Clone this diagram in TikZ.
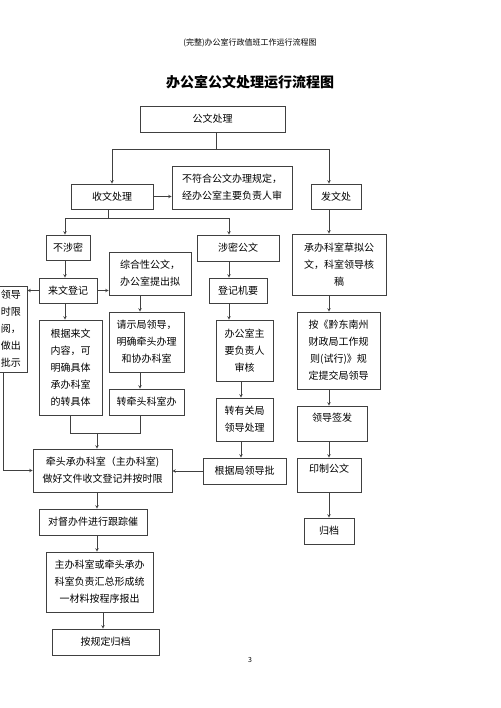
\documentclass[tikz,border=0pt]{standalone}
\usepackage{fontspec}
\setmainfont{Noto Sans CJK SC}
\usepackage{tikz}
\usetikzlibrary{arrows}
\tikzstyle{box} = [rectangle, draw=black!75, line width=0.6pt, align=center, inner sep=2pt, font=\fontsize{10}{17}\selectfont]
\tikzstyle{arrow} = [draw=black!75, line width=0.6pt, ->, >=stealth]

\begin{document}
\begin{tikzpicture}[x=1pt, y=-1pt]
		\useasboundingbox (0,0) rectangle (500,708);
		\coordinate (gwcl) at (212.5,119);
		\coordinate (swcl) at (112,196.5);
		\coordinate (bfh) at (232,187.5);
		\coordinate (fwc) at (336,196.5);
		\coordinate (bsm) at (68,247.5);
		\coordinate (smgw) at (238,248);
		\coordinate (cbks) at (339,264.5);
		\coordinate (lwdj) at (68,290.5);
		\coordinate (ldps) at (-6.5,329);
		\coordinate (zhx) at (150,273.5);
		\coordinate (gjlw) at (70.5,367.5);
		\coordinate (qsld) at (146.5,342);
		\coordinate (zqt) at (146.5,402);
		\coordinate (qtcb) at (102.5,470.5);
		\coordinate (djjy) at (238,290.5);
		\coordinate (bgsz) at (244.5,350.5);
		\coordinate (zygj) at (244.5,419.5);
		\coordinate (gjjl) at (244.5,471);
		\coordinate (ahdn) at (338.5,350.5);
		\coordinate (ldqf) at (332,423.5);
		\coordinate (yzgw) at (329,475);
		\coordinate (gd) at (329,531);
		\coordinate (dbj) at (93,522);
		\coordinate (zbks) at (99.5,582);
		\coordinate (agd) at (105.5,642);
		% branch points and columns
		\coordinate (s1) at (216,149);
		\coordinate (s2) at (108,218);
		\coordinate (s3) at (97,433);
		\coordinate (cola) at (65,0);
		\coordinate (colb) at (97,0);
		\coordinate (colc) at (140,0);
		\coordinate (cold) at (229,0);
		\coordinate (cole) at (241,0);
		\coordinate (colf) at (329,0);
		\coordinate (colg) at (3,0);
		\coordinate (colh) at (103,0);
		% Titles
		\node[name=header, font=\fontsize{8}{8}\selectfont] at (250,43) {(完整)办公室行政值班工作运行流程图};
		\node[name=title, font=\fontsize{14}{14}\selectfont\bfseries] at (250,82) {办公室公文处理运行流程图};
		\node[name=pageno, font=\fontsize{7}{7}\selectfont] at (250,660) {3};
		% Top
		\begin{scope}[every node/.style={box}]
		\node[name=gwcl, minimum width=145pt, minimum height=26pt] at (gwcl) {公文处理};
		\node[name=swcl, minimum width=82pt, minimum height=25pt] at (swcl) {收文处理};
		\node[name=bfh, minimum width=120pt, minimum height=43pt] at (bfh) {不符合公文办理规定，\\经办公室主要负责人审};
		\node[name=fwc, minimum width=50pt, minimum height=25pt] at (fwc) {发文处};
		\end{scope}
		% Receiving
		\begin{scope}[every node/.style={box}]
		\node[name=bsm, minimum width=44pt, minimum height=25pt] at (bsm) {不涉密};
		\node[name=lwdj, minimum width=58pt, minimum height=25pt] at (lwdj) {来文登记};
		\node[name=ldps, minimum height=86pt, text width=55pt, inner xsep=6pt, align=right] at (ldps) {领导\\时限\\阅，\\做出\\批示\hspace*{5pt}};
		\node[name=zhx, minimum width=82pt, minimum height=43pt] at (zhx) {综合性公文，\\办公室提出拟};
		\node[name=gjlw, minimum width=63pt, minimum height=95pt] at (gjlw) {根据来文\\内容，可\\明确具体\\承办科室\\的转具体};
		\node[name=qsld, minimum width=75pt, minimum height=60pt] at (qsld) {请示局领导，\\明确牵头办理\\和协办科室};
		\node[name=zqt, minimum width=75pt, minimum height=26pt] at (zqt) {转牵头科室办};
		\node[name=qtcb, minimum width=139pt, minimum height=43pt] at (qtcb) {牵头承办科室（主办科室)\\做好文件收文登记并按时限};
		\node[name=dbj, minimum width=108pt, minimum height=26pt] at (dbj) {对督办件进行跟踪催};
		\node[name=zbks, minimum width=107pt, minimum height=60pt] at (zbks) {主办科室或牵头承办\\科室负责汇总形成统\\一材料按程序报出};
		\node[name=agd, minimum width=107pt, minimum height=26pt] at (agd) {按规定归档};
		\end{scope}
		% Classified
		\begin{scope}[every node/.style={box}]
		\node[name=smgw, minimum width=82pt, minimum height=26pt] at (smgw) {涉密公文};
		\node[name=djjy, minimum width=58pt, minimum height=25pt] at (djjy) {登记机要};
		\node[name=bgsz, minimum width=57pt, minimum height=61pt] at (bgsz) {办公室主\\要负责人\\审核};
		\node[name=zygj, minimum width=57pt, minimum height=43pt] at (zygj) {转有关局\\领导处理};
		\node[name=gjjl, minimum width=83pt, minimum height=26pt] at (gjjl) {根据局领导批};
		\end{scope}
		% Sending
		\begin{scope}[every node/.style={box}]
		\node[name=cbks, minimum width=94pt, minimum height=61pt] at (cbks) {承办科室草拟公\\文，科室领导核\\稿};
		\node[name=ahdn, minimum width=83pt, minimum height=77pt] at (ahdn) {按《黔东南州\\财政局工作规\\则(试行)》规\\定提交局领导};
		\node[name=ldqf, minimum width=70pt, minimum height=35pt, text depth=12pt] at (ldqf) {领导签发};
		\node[name=yzgw, minimum width=64pt, minimum height=34pt, text depth=13pt] at (yzgw) {印制公文};
		\node[name=gd, minimum width=50pt, minimum height=26pt] at (gd) {归档};
		\end{scope}
		% Connectors
		\draw[arrow, -] (gwcl.south -| s1) -- (s1);
		\draw [arrow] (s1) -| (swcl);
		\draw [arrow] (s1) -| (fwc.north -| colf);
		\draw [arrow] (swcl.east) -- (swcl.east -| bfh.west);
		\draw [arrow, -] (swcl.south -| s2) -- (s2);
		\draw [arrow] (s2) -| (bsm.north -| cola);
		\draw [arrow] (s2) -| (smgw.north -| cold);
		\draw [arrow] (bsm.south -| cola) -- (lwdj.north -| cola);
		\draw [arrow] (lwdj.west) -- (lwdj.west -| ldps.east);
		\draw [arrow] (lwdj.east) -- (lwdj.east -| zhx.west);
		\draw [arrow] (lwdj.south -| cola) -- (gjlw.north -| cola);
		\draw [arrow] (zhx.south -| colc) -- (qsld.north -| colc);
		\draw [arrow] (qsld.south -| colc) -- (zqt.north -| colc);
		\draw [arrow, -] (gjlw.south) |- (s3 -| colc) -- (zqt.south -| colc);
		\draw [arrow] (s3) -- (qtcb.north -| s3);
		\draw [arrow] (ldps.south -| colg) |- (qtcb.west);
		\draw [arrow] (gjjl.west) -- (gjjl.west -| qtcb.east);
		\draw [arrow] (smgw.south -| cold) -- (djjy.north -| cold);
		\draw [arrow] (djjy.south -| cold) -- (bgsz.north -| cold);
		\draw [arrow] (bgsz.south -| cole) -- (zygj.north -| cole);
		\draw [arrow] (zygj.south -| cole) -- (gjjl.north -| cole);
		\draw [arrow] (fwc.south -| colf) -- (cbks.north -| colf);
		\draw [arrow] (cbks.south -| colf) -- (ahdn.north -| colf);
		\draw [arrow] (ahdn.south -| colf) -- (ldqf.north -| colf);
		\draw [arrow] (ldqf.south -| colf) -- (yzgw.north -| colf);
		\draw [arrow] (yzgw.south -| colf) -- (gd.north -| colf);
		\draw [arrow] (qtcb.south -| colb) -- (dbj.north -| colb);
		\draw [arrow] (dbj.south -| colb) -- (zbks.north -| colb);
		\draw [arrow] (zbks.south -| colh) -- (agd.north -| colh);
\end{tikzpicture}
\end{document}
